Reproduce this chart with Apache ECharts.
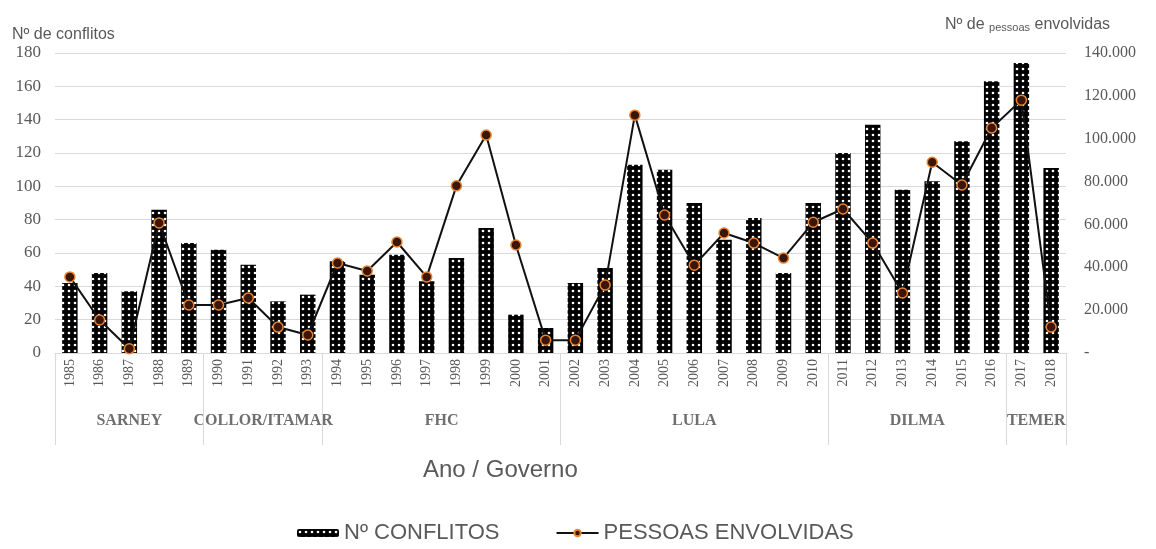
<!DOCTYPE html>
<html>
<head>
<meta charset="utf-8">
<script src="https://cdn.jsdelivr.net/npm/echarts@6/dist/echarts.min.js"></script>
<style>
  html, body { margin: 0; padding: 0; background: #fff; }
  #chart { width: 1156px; height: 549px; }
</style>
</head>
<body>
<div id="chart"></div>
<script>
  // anos
  var anos = ['1985','1986','1987','1988','1989','1990','1991','1992','1993','1994','1995','1996',
              '1997','1998','1999','2000','2001','2002','2003','2004','2005','2006','2007','2008',
              '2009','2010','2011','2012','2013','2014','2015','2016','2017','2018'];
  // nº de conflitos (eixo esquerdo)
  var conflitos = [42, 48, 37, 86, 66, 62, 53, 31, 35, 55, 47, 59, 43, 57, 75, 23, 15,
                   42, 51, 113, 110, 90, 68, 81, 48, 90, 120, 137, 98, 103, 127, 163, 174, 111];
  // pessoas envolvidas (eixo direito)
  var pessoas = [35500, 15400, 2000, 60700, 22400, 22400, 25700, 12100, 8400, 42000, 38300, 51800,
                 35500, 78000, 101700, 50400, 6000, 6000, 31700, 111000, 64400, 41000, 56000, 51300,
                 44300, 61000, 67200, 51300, 28000, 89000, 78400, 105000, 118000, 12100];
  // governos
  var governos = ['SARNEY', 'COLLOR/ITAMAR', 'FHC', 'LULA', 'DILMA', 'TEMER'];
  var govInicio = ['1985', '1990', '1994', '2002', '2011', '2017'];
  var govFim = ['1989', '1993', '2001', '2010', '2016', '2018'];

  // textura das barras (pontos brancos sobre preto)
  var tile = document.createElement('canvas');
  tile.width = 6; tile.height = 6;
  var ctx = tile.getContext('2d');
  ctx.fillStyle = '#000';
  ctx.fillRect(0, 0, 6, 6);
  ctx.fillStyle = '#fff';
  ctx.beginPath();
  ctx.arc(3, 3, 1.3, 0, Math.PI * 2);
  ctx.fill();

  var inicioIdx = govInicio.map(function (a) { return anos.indexOf(a); });
  var cinza = '#595959';

  var myChart = echarts.init(document.getElementById('chart'));
  var option = {
    animation: false,
    title: [
      {
        text: 'Nº de conflitos', left: 7, top: 22,
        textStyle: { fontFamily: 'Liberation Sans', fontSize: 16, fontWeight: 'normal', color: cinza }
      },
      {
        text: '{a|Nº de }{b|pessoas}{a| envolvidas}', left: 940, top: 12,
        textStyle: {
          rich: {
            a: { fontFamily: 'Liberation Sans', fontSize: 16, fontWeight: 'normal', color: cinza },
            b: { fontFamily: 'Liberation Sans', fontSize: 11, fontWeight: 'normal', color: cinza, verticalAlign: 'bottom' }
          }
        }
      },
      {
        text: 'Ano / Governo', left: 418, top: 453,
        textStyle: { fontFamily: 'Liberation Sans', fontSize: 24, fontWeight: 'normal', color: cinza }
      }
    ],
    legend: {
      bottom: 0,
      left: 292,
      itemGap: 56,
      textStyle: { fontFamily: 'Liberation Sans', fontSize: 22, color: cinza },
      data: [
        { name: 'Nº CONFLITOS', itemStyle: { color: { image: tile, repeat: 'repeat' } } },
        { name: 'PESSOAS ENVOLVIDAS' }
      ],
      itemWidth: 42,
      itemHeight: 8
    },
    grid: { left: 55, right: 90, top: 53, bottom: 196 },
    xAxis: [{
      type: 'category',
      data: anos,
      axisLine: { lineStyle: { color: '#d9d9d9' } },
      axisTick: {
        show: true,
        length: 92,
        lineStyle: { color: '#d9d9d9' },
        interval: function (index) { return inicioIdx.indexOf(index) >= 0; }
      },
      axisLabel: {
        interval: 0,
        rotate: 90,
        margin: 6,
        fontFamily: 'Liberation Serif',
        fontSize: 14,
        color: cinza
      }
    }],
    yAxis: [
      {
        type: 'value',
        min: 0, max: 180, interval: 20,
        axisLine: { show: false },
        axisTick: { show: false },
        splitLine: { lineStyle: { color: '#d9d9d9' } },
        axisLabel: { fontFamily: 'Liberation Serif', fontSize: 17, color: cinza, margin: 14 }
      },
      {
        type: 'value',
        min: 0, max: 140000, interval: 20000,
        axisLine: { show: false },
        axisTick: { show: false },
        splitLine: { show: false },
        axisLabel: {
          fontFamily: 'Liberation Serif', fontSize: 16, color: cinza, margin: 18,
          formatter: function (v) { return v === 0 ? '-' : (v / 1000) + '.000'; }
        }
      }
    ],
    series: [
      {
        name: 'Nº CONFLITOS',
        type: 'bar',
        barWidth: '52%',
        itemStyle: { color: { image: tile, repeat: 'repeat' } },
        data: conflitos
      },
      {
        name: 'PESSOAS ENVOLVIDAS',
        type: 'line',
        yAxisIndex: 1,
        symbol: 'circle',
        symbolSize: 10,
        lineStyle: { color: '#111', width: 2 },
        itemStyle: { color: '#3b1606', borderColor: '#e8842f', borderWidth: 1.5 },
        data: pessoas
      }
    ]
  };
  myChart.setOption(option);

  // rótulos dos governos, posicionados pela própria escala do eixo
  var y0 = myChart.convertToPixel({ yAxisIndex: 0 }, 0);
  var textos = governos.map(function (g, i) {
    var x1 = myChart.convertToPixel({ xAxisIndex: 0 }, govInicio[i]);
    var x2 = myChart.convertToPixel({ xAxisIndex: 0 }, govFim[i]);
    return {
      type: 'text',
      x: (x1 + x2) / 2,
      y: y0 + 68,
      style: {
        text: g,
        align: 'center',
        verticalAlign: 'middle',
        font: 'bold 16px "Liberation Serif"',
        fill: '#6f6f6f'
      }
    };
  });
  myChart.setOption({ graphic: textos });
</script>
</body>
</html>
